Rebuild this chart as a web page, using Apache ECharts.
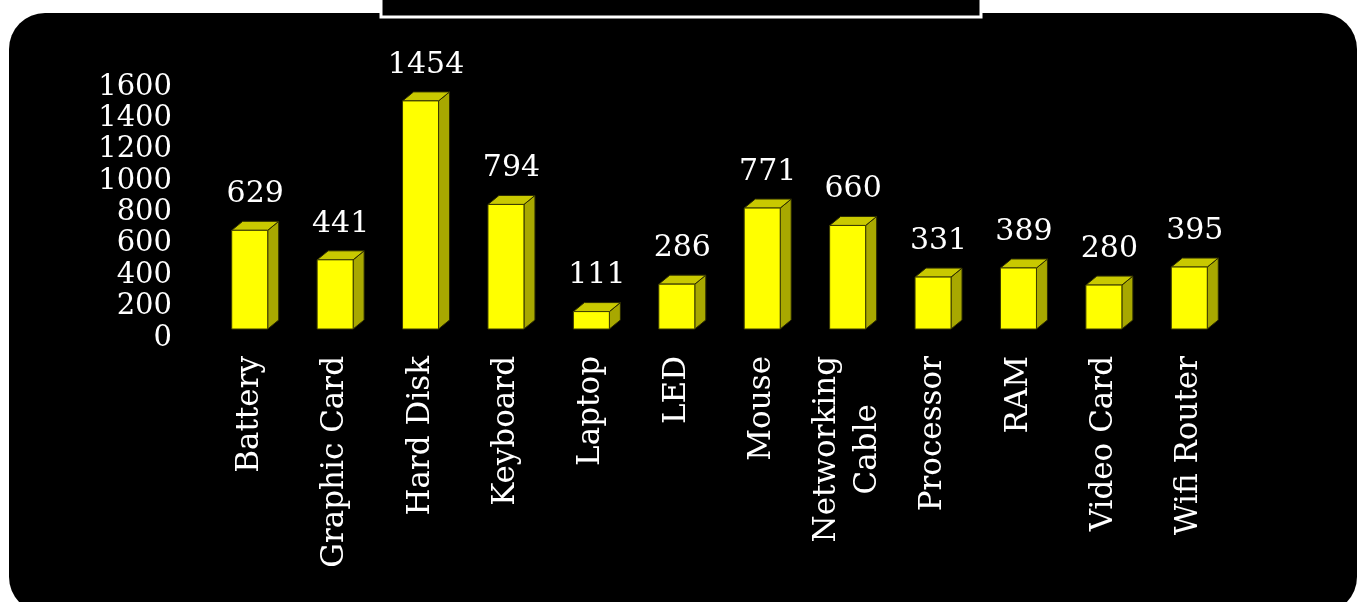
<!DOCTYPE html>
<html>
<head>
<meta charset="utf-8">
<title>Products</title>
<script src="https://cdn.jsdelivr.net/npm/echarts@6/dist/echarts.min.js"></script>
<style>
  html, body { margin: 0; padding: 0; background: #ffffff; }
  #chart { width: 1362px; height: 602px; }
</style>
</head>
<body>
<div id="chart"></div>
<script>
// chart data
var categories = ['Battery', 'Graphic Card', 'Hard Disk', 'Keyboard', 'Laptop', 'LED',
  'Mouse', 'Networking Cable', 'Processor', 'RAM', 'Video Card', 'Wifi Router'];
var axisLabels = ['Battery', 'Graphic Card', 'Hard Disk', 'Keyboard', 'Laptop', 'LED',
  'Mouse', 'Networking\nCable', 'Processor', 'RAM', 'Video Card', 'Wifi Router'];
var values = [629, 441, 1454, 794, 111, 286, 771, 660, 331, 389, 280, 395];
var yMin = 0, yMax = 1600, yStep = 200;

var FONT = 'DejaVu Serif';
var chart = echarts.init(document.getElementById('chart'));

// 3d box: front face + top + right side
function renderBox(params, api) {
  var top = api.coord([api.value(0), api.value(1)]);
  var base = api.coord([api.value(0), 0]);
  var w = 36, dx = 11, dy = 9;
  var x0 = top[0] - w / 2, x1 = top[0] + w / 2;
  var yt = top[1], yb = base[1];
  return {
    type: 'group',
    children: [
      {
        type: 'polygon',
        shape: { points: [[x1, yt], [x1 + dx, yt - dy], [x1 + dx, yb - dy], [x1, yb]] },
        style: { fill: '#a8a800', stroke: '#2a2a00', lineWidth: 1 }
      },
      {
        type: 'polygon',
        shape: { points: [[x0, yt], [x0 + dx, yt - dy], [x1 + dx, yt - dy], [x1, yt]] },
        style: { fill: '#c9c900', stroke: '#2a2a00', lineWidth: 1 }
      },
      {
        type: 'rect',
        shape: { x: x0, y: yt, width: w, height: yb - yt },
        style: { fill: '#ffff00', stroke: '#3a3a00', lineWidth: 1 }
      },
      {
        type: 'text',
        style: {
          text: String(api.value(1)),
          x: top[0] + dx / 2,
          y: yt - dy - 27,
          align: 'center',
          verticalAlign: 'middle',
          fill: '#ffffff',
          font: '30px "' + FONT + '"'
        }
      }
    ]
  };
}

chart.setOption({
  backgroundColor: 'transparent',
  animation: false,
  graphic: [
    {
      type: 'rect', z: -10,
      shape: { x: 9, y: 13, width: 1348, height: 600, r: 36 },
      style: { fill: '#000000' }
    },
    {
      type: 'rect', z: -9,
      shape: { x: 381, y: -10, width: 600, height: 27 },
      style: { fill: '#000000', stroke: '#ffffff', lineWidth: 3 }
    }
  ],
  grid: { left: 207, right: 130, top: 78, bottom: 273 },
  xAxis: {
    type: 'category',
    data: categories,
    axisLine: { show: false },
    axisTick: { show: false },
    axisLabel: {
      interval: 0,
      rotate: 90,
      margin: 27,
      formatter: function (v, i) {
        return axisLabels[i].split('\n').map(function (s) { return '{c|' + s + '}'; }).join('\n');
      },
      rich: {
        c: { align: 'center', color: '#ffffff', fontFamily: FONT, fontSize: 31, lineHeight: 41 }
      }
    }
  },
  yAxis: {
    type: 'value',
    min: yMin,
    max: yMax,
    interval: yStep,
    axisLine: { show: false },
    axisTick: { show: false },
    splitLine: { show: false },
    axisLabel: {
      color: '#ffffff',
      fontFamily: FONT,
      fontSize: 29,
      margin: 35,
      verticalAlign: 'top',
      lineHeight: 18,
      formatter: function (v) { return String(v); }
    }
  },
  series: [{
    type: 'custom',
    renderItem: renderBox,
    data: values.map(function (v, i) { return [i, v]; }),
    encode: { x: 0, y: 1 }
  }]
});

window.addEventListener('resize', function () { chart.resize(); });
</script>
</body>
</html>
